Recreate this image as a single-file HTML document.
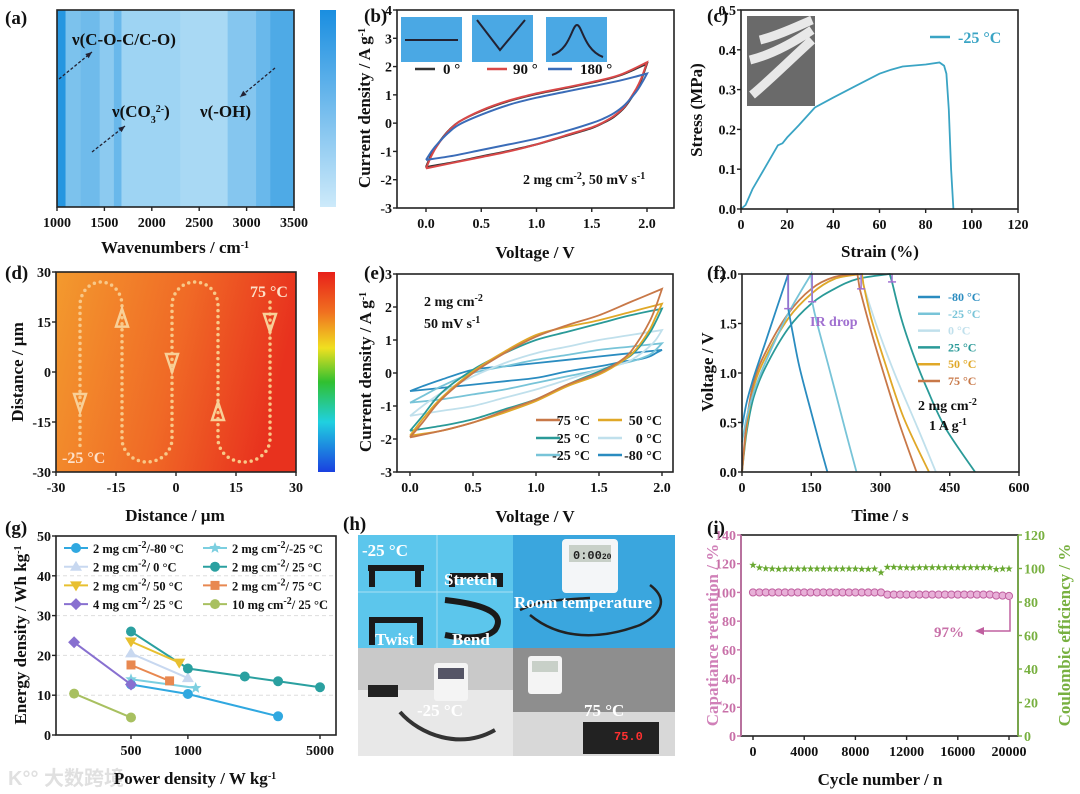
<!DOCTYPE html>
<html><head><meta charset="utf-8">
<style>
body{margin:0;background:#fff}
svg{display:block;font-family:"Liberation Serif","Noto Serif CJK SC",serif;font-weight:bold}
</style></head><body>
<svg id="fig" xmlns="http://www.w3.org/2000/svg" width="1080" height="794" viewBox="0 0 1080 794">
<defs>
<linearGradient id="cbA" x1="0" y1="0" x2="0" y2="1"><stop offset="0" stop-color="#1a8ee0"/><stop offset="1" stop-color="#cdeafa"/></linearGradient>
<linearGradient id="dBg" x1="0" y1="0" x2="1" y2="0.2"><stop offset="0" stop-color="#f39a2e"/><stop offset="0.55" stop-color="#f06a26"/><stop offset="1" stop-color="#e8321e"/></linearGradient>
<linearGradient id="rainbow" x1="0" y1="0" x2="0" y2="1"><stop offset="0" stop-color="#e8201a"/><stop offset="0.2" stop-color="#f07020"/><stop offset="0.38" stop-color="#f0e020"/><stop offset="0.55" stop-color="#30c030"/><stop offset="0.75" stop-color="#20d0e0"/><stop offset="1" stop-color="#1a40e0"/></linearGradient>
</defs>
<rect x="0" y="0" width="1080" height="794" fill="#fff"/>
<g>
<rect x="358" y="535" width="155" height="113" fill="#5cc6ec"/>
<line x1="437" y1="535" x2="437" y2="648" stroke="#a8e0f4" stroke-width="1"/>
<line x1="358" y1="592" x2="513" y2="592" stroke="#a8e0f4" stroke-width="1"/>
<path d="M372,587 L372,568 L418,568 L418,587 M372,568 L368,568 M418,568 L424,568" stroke="#1a1a1a" stroke-width="6" fill="none"/>
<path d="M450,576 L503,576 M452,576 L452,587 M500,576 L500,587" stroke="#1a1a1a" stroke-width="6" fill="none"/>
<path d="M372,645 L372,620 L420,620 L420,645" stroke="#1a1a1a" stroke-width="6" fill="none"/>
<path d="M445,600 C490,605 505,615 495,630 C485,640 460,638 445,635" stroke="#1a1a1a" stroke-width="6" fill="none"/>
<text x="362" y="556" font-size="17" fill="#fff">-25 °C</text>
<text x="444" y="585" font-size="17" fill="#fff">Stretch</text>
<text x="375" y="645" font-size="17" fill="#fff">Twist</text>
<text x="452" y="645" font-size="17" fill="#fff">Bend</text>
<rect x="513" y="535" width="162" height="113" fill="#3aa6de"/>
<rect x="562" y="539" width="56" height="54" rx="4" fill="#f4f6f8"/>
<rect x="569" y="545" width="42" height="17" fill="#c8d0c8"/>
<text x="573" y="559" font-size="12" fill="#222" font-family="Liberation Mono,monospace">0:00<tspan font-size="8">20</tspan></text>
<path d="M520,610 C540,600 560,600 590,598 M530,615 C560,640 600,640 640,625 C660,615 670,600 650,585" stroke="#222" stroke-width="2.5" fill="none"/>
<text x="514" y="608" font-size="17" fill="#fff">Room temperature</text>
<rect x="358" y="648" width="155" height="108" fill="#c9c9c9"/>
<rect x="358" y="690" width="155" height="66" fill="#e8e8e8"/>
<rect x="368" y="685" width="30" height="12" fill="#222"/>
<rect x="434" y="663" width="34" height="38" rx="3" fill="#f4f4f4"/>
<rect x="438" y="668" width="26" height="11" fill="#556"/>
<path d="M400,712 C420,735 460,750 495,730" stroke="#333" stroke-width="4" fill="none"/>
<text x="417" y="716" font-size="17" fill="#fff">-25 °C</text>
<rect x="513" y="648" width="162" height="108" fill="#8e8e8e"/>
<rect x="513" y="712" width="162" height="44" fill="#d8d8d8"/>
<rect x="528" y="656" width="34" height="38" rx="3" fill="#f4f4f4"/>
<rect x="532" y="661" width="26" height="11" fill="#c8d0c8"/>
<rect x="583" y="722" width="76" height="32" fill="#222"/>
<text x="614" y="740" font-size="12" fill="#ff3030" font-family="Liberation Mono,monospace">75.0</text>
<text x="584" y="716" font-size="17" fill="#fff">75 °C</text>
</g>
<rect x="401" y="17" width="61" height="45" fill="#4aa8e4"/>
<rect x="472" y="15" width="61" height="47" fill="#4aa8e4"/>
<rect x="546" y="17" width="61" height="45" fill="#4aa8e4"/>
<path d="M405,40 L458,40 M477,20 L500,50 L525,20 M552,55 C570,50 572,25 577,25 C582,25 584,50 603,57" stroke="#223" stroke-width="2" fill="none"/>
<rect x="747" y="16" width="68" height="90" fill="#6a6a6a"/>
<path d="M752,95 C770,80 790,60 812,40 M750,60 C770,55 790,45 812,30 M760,40 C780,35 800,25 812,20" stroke="#e8e8e8" stroke-width="9" fill="none"/>
<text x="8" y="785" font-size="20" fill="#e0e0e0" font-family="Liberation Sans,'Noto Sans CJK SC',sans-serif">K°° 大数跨境</text>
</svg>
<script>
const aWaveEdges = [1000,1090,1250,1450,1600,1680,2300,2800,3100,3250,3500];
const aIntensity = [0.92,0.45,0.52,0.36,0.55,0.26,0.2,0.4,0.55,0.7];
const aTicks = [1000,1500,2000,2500,3000,3500];
const bVup = [0,0.05,0.1,0.2,0.3,0.5,0.75,1.0,1.25,1.5,1.75,2.0];
const bVdn = [2.0,1.95,1.9,1.8,1.7,1.6,1.5,1.25,1.0,0.75,0.5,0.25,0];
const b0Up = [-1.55,-1.1,-0.78,-0.28,0.05,0.43,0.78,1.03,1.23,1.43,1.68,2.1];
const b0Dn = [2.1,1.55,1.15,0.57,0.22,0,-0.17,-0.47,-0.75,-0.98,-1.18,-1.38,-1.55];
const b90Up = [-1.6,-1.15,-0.8,-0.3,0.05,0.45,0.8,1.05,1.25,1.45,1.7,2.15];
const b90Dn = [2.15,1.6,1.2,0.6,0.25,0.02,-0.15,-0.45,-0.75,-1.0,-1.2,-1.4,-1.6];
const b180Up = [-1.3,-1.0,-0.75,-0.35,-0.05,0.3,0.65,0.9,1.1,1.3,1.5,1.75];
const b180Dn = [1.75,1.4,1.1,0.65,0.35,0.15,0.0,-0.3,-0.55,-0.75,-0.95,-1.15,-1.3];
const bXTicks = [0,0.5,1.0,1.5,2.0];
const bYTicks = [-3,-2,-1,0,1,2,3,4];
const cStrain = [0,2,5,10,16,18,20,25,32,40,50,60,65,70,80,86,88,89,90,91,92];
const cStress = [0,0.01,0.05,0.1,0.16,0.165,0.18,0.21,0.255,0.28,0.31,0.34,0.35,0.358,0.363,0.368,0.36,0.34,0.25,0.1,0];
const cXTicks = [0,20,40,60,80,100,120];
const cYTicks = [0,0.1,0.2,0.3,0.4,0.5];
const dTicks = [-30,-15,0,15,30];
const dArrowX = [-24,-13.5,-1,10.5,23.5];
const dArrowY = [-9,16,3,-12,15];
const dArrowUp = [false,true,false,true,false];
const eVup = [0,0.1,0.25,0.5,0.75,1.0,1.25,1.5,1.75,2.0];
const eVdn = [2.0,1.95,1.9,1.8,1.7,1.5,1.25,1.0,0.75,0.5,0.25,0];
const e75Up = [-1.95,-1.5,-0.8,0,0.6,1.1,1.45,1.75,2.15,2.55];
const e75Dn = [2.55,2.0,1.55,0.9,0.45,0.0,-0.35,-0.8,-1.15,-1.5,-1.75,-1.95];
const e50Up = [-1.9,-1.4,-0.75,0.05,0.65,1.15,1.4,1.6,1.85,2.1];
const e50Dn = [2.1,1.7,1.3,0.75,0.4,-0.05,-0.4,-0.85,-1.2,-1.5,-1.75,-1.9];
const e25Up = [-1.75,-1.3,-0.6,0.1,0.6,1.0,1.25,1.5,1.75,1.95];
const e25Dn = [1.95,1.55,1.2,0.7,0.4,0.05,-0.35,-0.8,-1.1,-1.4,-1.6,-1.75];
const e0Up = [-1.3,-1.0,-0.6,-0.1,0.3,0.6,0.8,1.0,1.15,1.3];
const e0Dn = [1.3,1.0,0.8,0.5,0.3,0.1,-0.2,-0.5,-0.75,-1.0,-1.15,-1.3];
const em25Up = [-0.9,-0.7,-0.4,0,0.2,0.4,0.55,0.7,0.8,0.9];
const em25Dn = [0.9,0.7,0.55,0.4,0.3,0.1,-0.1,-0.3,-0.5,-0.65,-0.8,-0.9];
const em80Up = [-0.55,-0.4,-0.2,0.1,0.2,0.3,0.4,0.5,0.6,0.7];
const em80Dn = [0.7,0.6,0.5,0.4,0.35,0.2,0.05,-0.15,-0.25,-0.35,-0.45,-0.55];
const eYTicks = [-3,-2,-1,0,1,2,3];
const fm80T = [0,10,25,50,75,100,100,110,125,150,170,185];
const fm80V = [0.45,0.7,0.95,1.3,1.65,2.0,1.65,1.4,1.05,0.6,0.25,0];
const fm25T = [0,10,25,50,100,150,152,160,180,200,225,248];
const fm25V = [0.3,0.55,0.8,1.1,1.6,2.0,1.72,1.55,1.2,0.85,0.4,0];
const f0T = [0,10,25,50,100,150,200,255,262,290,330,380,420];
const f0V = [0,0.5,0.85,1.15,1.55,1.8,1.95,2.0,1.9,1.5,1.0,0.45,0];
const f25T = [0,10,25,50,100,150,200,250,320,325,345,370,400,440,505];
const f25V = [0,0.4,0.75,1.05,1.45,1.7,1.85,1.95,2.0,1.92,1.55,1.2,0.85,0.45,0];
const f50T = [0,10,25,50,100,150,200,260,263,280,310,350,405];
const f50V = [0,0.45,0.85,1.15,1.55,1.8,1.95,2.0,1.9,1.55,1.1,0.55,0];
const f75T = [0,10,25,50,100,150,200,250,255,275,300,340,378];
const f75V = [0,0.5,0.9,1.2,1.6,1.85,1.97,2.0,1.85,1.5,1.1,0.5,0];
const fIRT = [100,152,258,325];
const fIRV = [1.65,1.72,1.85,1.92];
const fXTicks = [0,150,300,450,600];
const fYTicks = [0,0.5,1.0,1.5,2.0];
const gm80P = [500,1000,3000], gm80E = [12.7,10.3,4.7];
const gm25P = [500,1100], gm25E = [14,11.8];
const g0P = [500,1000], g0E = [20.5,14.3];
const g25P = [500,1000,2000,3000,5000], g25E = [26,16.7,14.7,13.5,12];
const g50P = [500,900], g50E = [23.5,18.2];
const g75P = [500,800], g75E = [17.6,13.6];
const g4P = [250,500], g4E = [23.3,12.7];
const g10P = [250,500], g10E = [10.4,4.4];
const gXTicks = [500,1000,5000];
const gYTicks = [0,10,20,30,40,50];
const iCycles = [0,500,1000,1500,2000,2500,3000,3500,4000,4500,5000,5500,6000,6500,7000,7500,8000,8500,9000,9500,10000,10500,11000,11500,12000,12500,13000,13500,14000,14500,15000,15500,16000,16500,17000,17500,18000,18500,19000,19500,20000];
const iRet = [100,100,100,100,100,100,100,100,100,100,100,100,100,100,100,100,100,100,100,100,100,98.5,98.5,98.5,98.5,98.5,98.5,98.5,98.5,98.5,98.5,98.5,98.5,98.5,98.5,98.5,98.5,98.5,97.8,97.8,97.5];
const iCE = [102,100.5,100,99.8,99.6,99.8,99.8,99.8,99.8,99.8,99.8,99.8,99.8,99.8,99.8,99.8,99.8,99.6,99.6,99.8,97.5,100.8,100.8,100.6,100.5,100.4,100.6,100.6,100.6,100.6,100.6,100.6,100.6,100.6,100.6,100.6,100.6,100.6,99.5,99.8,99.8];
const iXTicks = [0,4000,8000,12000,16000,20000];
const iLTicks = [0,20,40,60,80,100,120,140];
const iRTicks = [0,20,40,60,80,100,120];

const NS = 'http://www.w3.org/2000/svg';
const S = document.getElementById('fig');
const TF = 14;
function mk(tag, attrs, parent, name) {
  const e = document.createElementNS(NS, tag);
  for (const k in attrs) e.setAttribute(k, attrs[k]);
  
  
  parent.appendChild(e);
  return e;
}
function txt(parent, x, y, html, size, anchor, fill, name, rot) {
  const a = {x: x, y: y, 'font-size': size, 'text-anchor': anchor || 'start', fill: fill || '#111'};
  if (rot) a.transform = 'rotate(-90,' + x + ',' + y + ')';
  const t = mk('text', a, parent, name);
  t.innerHTML = html;
  return t;
}
const sup = s => '<tspan baseline-shift="super" font-size="10">' + s + '</tspan>';
const sub = s => '<tspan baseline-shift="sub" font-size="10">' + s + '</tspan>';
function lin(d0, d1, r0, r1) { return v => r0 + (v - d0) / (d1 - d0) * (r1 - r0); }
function smooth(pts, move) {
  let d = (move === false ? 'L' : 'M') + pts[0][0].toFixed(1) + ',' + pts[0][1].toFixed(1);
  for (let i = 0; i < pts.length - 1; i++) {
    const p0 = pts[i - 1] || pts[i], p1 = pts[i], p2 = pts[i + 1], p3 = pts[i + 2] || p2;
    const c1 = [p1[0] + (p2[0] - p0[0]) / 6, p1[1] + (p2[1] - p0[1]) / 6];
    const c2 = [p2[0] - (p3[0] - p1[0]) / 6, p2[1] - (p3[1] - p1[1]) / 6];
    d += ' C' + c1.map(v => v.toFixed(1)) + ' ' + c2.map(v => v.toFixed(1)) + ' ' + p2.map(v => v.toFixed(1));
  }
  return d;
}
function axes(g, x0, y0, x1, y1, xs, ys, xt, xfmt, yt, yfmt, opt) {
  opt = opt || {};
  const frame = mk('rect', {x: x0, y: y0, width: x1 - x0, height: y1 - y0, fill: 'none', stroke: '#222', 'stroke-width': 1.6}, g, 'plot-frame');
  xt.forEach(v => {
    const x = xs(v);
    const tk = mk('line', {x1: x, y1: y1, x2: x, y2: y1 + 4, stroke: '#222', 'stroke-width': 1.4}, g, 'x-tick');
    txt(g, x, y1 + 20, xfmt(v), TF, 'middle', '#111', 'x-tick-label');
  });
  if (yt) yt.forEach(v => {
    const y = ys(v);
    const tk = mk('line', {x1: x0 - 4, y1: y, x2: x0, y2: y, stroke: opt.yc || '#222', 'stroke-width': 1.4}, g, 'y-tick');
    txt(g, x0 - 5, y + 5, yfmt(v), TF, 'end', opt.yc || '#111', 'y-tick-label');
  });
  return frame;
}
function panel(name) { return mk('g', {}, S, name); }
function panelLabel(x, y, s) { txt(S, x, y, s, 19, 'start', '#111', 'panel-label'); }

{
  const g = panel('panel-a-ftir-map');
  const xs = lin(1000, 3500, 57, 294);
  const c0 = [205, 236, 250], c1 = [24, 142, 222];
  for (let i = 0; i < aIntensity.length; i++) {
    const t = aIntensity[i];
    const col = 'rgb(' + c0.map((c, k) => Math.round(c + (c1[k] - c) * t)).join(',') + ')';
    const r = mk('rect', {x: xs(aWaveEdges[i]), y: 10, width: xs(aWaveEdges[i + 1]) - xs(aWaveEdges[i]) + 0.5, height: 197, fill: col}, g, 'heatmap-band');
  }
  axes(g, 57, 10, 294, 207, xs, null, aTicks, v => v, null, null);
  const cb = mk('rect', {x: 320, y: 10, width: 16, height: 197, fill: 'url(#cbA)'}, g, 'colorbar');
  txt(g, 72, 45, 'ν(C-O-C/C-O)', 17, 'start', '#111', 'annotation-coc');
  txt(g, 112, 117, 'ν(CO' + sub('3') + sup('2-') + ')', 17, 'start', '#111', 'annotation-co3');
  txt(g, 200, 117, 'ν(-OH)', 17, 'start', '#111', 'annotation-oh');
  [[59, 79, 92, 52], [92, 152, 125, 126], [275, 68, 240, 97]].forEach(a => {
    const l = mk('line', {x1: a[0], y1: a[1], x2: a[2], y2: a[3], stroke: '#223', 'stroke-width': 1.3, 'stroke-dasharray': '3,2'}, g, 'annotation-arrow');
    const ang = Math.atan2(a[3] - a[1], a[2] - a[0]);
    const p = [[a[2], a[3]], [a[2] - 7 * Math.cos(ang - 0.4), a[3] - 7 * Math.sin(ang - 0.4)], [a[2] - 7 * Math.cos(ang + 0.4), a[3] - 7 * Math.sin(ang + 0.4)]];
    const h = mk('polygon', {points: p.map(q => q.join(',')).join(' '), fill: '#223'}, g, 'arrow-head');
  });
  txt(g, 175, 253, 'Wavenumbers / cm' + sup('-1'), 17, 'middle', '#111', 'x-axis-title');
  panelLabel(5, 24, '(a)');
}
{
  const g = panel('panel-b-cv-bending');
  const xs = lin(0, 2, 426, 647), ys = lin(-3, 4, 208, 10);
  const series = [[b0Up, b0Dn, '#333'], [b90Up, b90Dn, '#d84848'], [b180Up, b180Dn, '#3a6cb8']];
  series.forEach(s => {
    const up = bVup.map((v, i) => [xs(v), ys(s[0][i])]);
    const dn = bVdn.map((v, i) => [xs(v), ys(s[1][i])]);
    const p = mk('path', {d: smooth(up) + ' ' + smooth(dn, false), fill: 'none', stroke: s[2], 'stroke-width': 2}, g, 'cv-loop');
  });
  axes(g, 397, 10, 674, 208, xs, ys, bXTicks, v => v.toFixed(1), bYTicks, v => v);
  [[415, 435, '#333', '0 °', 443], [487, 507, '#d84848', '90 °', 513], [548, 572, '#3a6cb8', '180 °', 580]].forEach(l => {
    const ln = mk('line', {x1: l[0], y1: 69, x2: l[1], y2: 69, stroke: l[2], 'stroke-width': 2.5}, g, 'legend-line');
    txt(g, l[4], 74, l[3], 15, 'start', '#111', 'legend-label');
  });
  txt(g, 523, 184, '2 mg cm' + sup('-2') + ', 50 mV s' + sup('-1'), 14, 'start', '#111', 'condition-note');
  txt(g, 370, 108, 'Current density / A g' + sup('-1'), 17, 'middle', '#111', 'y-axis-title', true);
  txt(g, 535, 258, 'Voltage / V', 17, 'middle', '#111', 'x-axis-title');
  panelLabel(364, 22, '(b)');
}
{
  const g = panel('panel-c-stress-strain');
  const xs = lin(0, 120, 741, 1018), ys = lin(0, 0.5, 209, 10);
  const p = mk('path', {d: cStrain.map((v, i) => (i ? 'L' : 'M') + xs(v).toFixed(1) + ',' + ys(cStress[i]).toFixed(1)).join(' '), fill: 'none', stroke: '#3aa4c4', 'stroke-width': 1.8}, g, 'stress-strain-curve');
  axes(g, 741, 10, 1018, 209, xs, ys, cXTicks, v => v, cYTicks, v => v.toFixed(1));
  const ll = mk('line', {x1: 930, y1: 37, x2: 950, y2: 37, stroke: '#3aa4c4', 'stroke-width': 2.5}, g, 'legend-line');
  txt(g, 958, 43, '-25 °C', 16, 'start', '#3aa4c4', 'legend-label');
  txt(g, 702, 110, 'Stress (MPa)', 17, 'middle', '#111', 'y-axis-title', true);
  txt(g, 880, 257, 'Strain (%)', 17, 'middle', '#111', 'x-axis-title');
  panelLabel(707, 22, '(c)');
}
{
  const g = panel('panel-d-temperature-map');
  const xs = lin(-30, 30, 56, 296), ys = lin(-30, 30, 472, 272);
  const bg = mk('rect', {x: 56, y: 272, width: 240, height: 200, fill: 'url(#dBg)'}, g, 'temperature-field');
  const rx = (xs(-13.5) - xs(-24)) / 2, ry = ys(20) - ys(27);
  const d = 'M' + xs(-24) + ',' + ys(-22) + ' L' + xs(-24) + ',' + ys(20) +
    ' A' + rx + ',' + ry + ' 0 0 1 ' + xs(-13.5) + ',' + ys(20) + ' L' + xs(-13.5) + ',' + ys(-20) +
    ' A' + (xs(-1) - xs(-13.5)) / 2 + ',' + ry + ' 0 0 0 ' + xs(-1) + ',' + ys(-20) + ' L' + xs(-1) + ',' + ys(20) +
    ' A' + (xs(10.5) - xs(-1)) / 2 + ',' + ry + ' 0 0 1 ' + xs(10.5) + ',' + ys(20) + ' L' + xs(10.5) + ',' + ys(-20) +
    ' A' + (xs(23.5) - xs(10.5)) / 2 + ',' + ry + ' 0 0 0 ' + xs(23.5) + ',' + ys(-20) + ' L' + xs(23.5) + ',' + ys(22);
  const path = mk('path', {d: d, fill: 'none', stroke: '#f8c888', 'stroke-width': 3.5, 'stroke-linecap': 'round', 'stroke-dasharray': '0,6'}, g, 'scan-path');
  dArrowX.forEach((x, i) => {
    const cx = xs(x), cy = ys(dArrowY[i]);
    const pts = dArrowUp[i] ? [[cx, cy - 10], [cx - 6, cy + 8], [cx + 6, cy + 8]] : [[cx, cy + 10], [cx - 6, cy - 8], [cx + 6, cy - 8]];
    const tri = mk('polygon', {points: pts.map(q => q.join(',')).join(' '), fill: 'none', stroke: '#f8d098', 'stroke-width': 2.5}, g, 'scan-direction-arrow');
  });
  axes(g, 56, 272, 296, 472, xs, ys, dTicks, v => v, dTicks, v => v);
  txt(g, 250, 297, '75 °C', 16, 'start', '#fde0c8', 'label-75c');
  txt(g, 62, 463, '-25 °C', 16, 'start', '#fde0c8', 'label-minus25c');
  const cb = mk('rect', {x: 318, y: 272, width: 17, height: 200, fill: 'url(#rainbow)'}, g, 'colorbar');
  txt(g, 23, 372, 'Distance / µm', 17, 'middle', '#111', 'y-axis-title', true);
  txt(g, 175, 521, 'Distance / µm', 17, 'middle', '#111', 'x-axis-title');
  panelLabel(5, 279, '(d)');
}
{
  const g = panel('panel-e-cv-temperature');
  const xs = lin(0, 2, 410, 662), ys = lin(-3, 3, 472, 274);
  const series = [[em80Up, em80Dn, '#2a8cc0'], [em25Up, em25Dn, '#78c4d8'], [e0Up, e0Dn, '#c0e0ec'], [e25Up, e25Dn, '#2a9a98'], [e50Up, e50Dn, '#e0a828'], [e75Up, e75Dn, '#c87848']];
  series.forEach(s => {
    const up = eVup.map((v, i) => [xs(v), ys(s[0][i])]);
    const dn = eVdn.map((v, i) => [xs(v), ys(s[1][i])]);
    const p = mk('path', {d: smooth(up) + ' ' + smooth(dn, false), fill: 'none', stroke: s[2], 'stroke-width': 1.8}, g, 'cv-loop');
  });
  axes(g, 397, 274, 673, 472, xs, ys, bXTicks, v => v.toFixed(1), eYTicks, v => v);
  txt(g, 424, 306, '2 mg cm' + sup('-2'), 14, 'start', '#111', 'condition-note');
  txt(g, 424, 328, '50 mV s' + sup('-1'), 14, 'start', '#111', 'condition-note');
  [['75 °C', '#c87848', 536, 420, 590], ['50 °C', '#e0a828', 598, 420, 662], ['25 °C', '#2a9a98', 536, 438, 590], ['0 °C', '#c0e0ec', 598, 438, 662], ['-25 °C', '#78c4d8', 536, 455, 590], ['-80 °C', '#2a8cc0', 598, 455, 662]].forEach(l => {
    const ln = mk('line', {x1: l[2], y1: l[3], x2: l[2] + 24, y2: l[3], stroke: l[1], 'stroke-width': 2.5}, g, 'legend-line');
    txt(g, l[4], l[3] + 5, l[0], 14, 'end', '#111', 'legend-label');
  });
  txt(g, 371, 372, 'Current density / A g' + sup('-1'), 17, 'middle', '#111', 'y-axis-title', true);
  txt(g, 535, 522, 'Voltage / V', 17, 'middle', '#111', 'x-axis-title');
  panelLabel(364, 279, '(e)');
}
{
  const g = panel('panel-f-gcd');
  const xs = lin(0, 600, 742, 1019), ys = lin(0, 2, 472, 274);
  const series = [[f25T, f25V, '#2a9a98'], [f0T, f0V, '#c0e0ec'], [f50T, f50V, '#e0a828'], [f75T, f75V, '#c87848'], [fm25T, fm25V, '#78c4d8'], [fm80T, fm80V, '#2a8cc0']];
  series.forEach(s => {
    let k = 1;
    while (k < s[1].length && s[1][k] >= s[1][k - 1]) k++;
    const ch = s[0].slice(0, k).map((t, i) => [xs(t), ys(s[1][i])]);
    const dc = s[0].slice(k).map((t, i) => [xs(t), ys(s[1][k + i])]);
    const p = mk('path', {d: smooth(ch) + ' ' + smooth(dc, false), fill: 'none', stroke: s[2], 'stroke-width': 1.8}, g, 'gcd-curve');
  });
  fIRT.forEach((t, i) => {
    const x = xs(t);
    const l = mk('line', {x1: x, y1: ys(2.0), x2: x, y2: ys(fIRV[i]), stroke: '#a070d0', 'stroke-width': 1.5}, g, 'ir-drop-marker');
    const b = mk('line', {x1: x - 4, y1: ys(fIRV[i]), x2: x + 4, y2: ys(fIRV[i]), stroke: '#a070d0', 'stroke-width': 1.5}, g, 'ir-drop-cap');
  });
  axes(g, 742, 274, 1019, 472, xs, ys, fXTicks, v => v, fYTicks, v => v.toFixed(1));
  txt(g, 810, 326, 'IR drop', 14, 'start', '#a070d0', 'ir-drop-label');
  [['-80 °C', '#2a8cc0'], ['-25 °C', '#78c4d8'], ['0 °C', '#c0e0ec'], ['25 °C', '#2a9a98'], ['50 °C', '#e0a828'], ['75 °C', '#c87848']].forEach((l, i) => {
    const y = 297 + i * 16.8;
    const ln = mk('line', {x1: 918, y1: y, x2: 940, y2: y, stroke: l[1], 'stroke-width': 2.5}, g, 'legend-line');
    txt(g, 948, y + 4, l[0], 12, 'start', l[1], 'legend-label');
  });
  txt(g, 918, 410, '2 mg cm' + sup('-2'), 14, 'start', '#111', 'condition-note');
  txt(g, 929, 430, '1 A g' + sup('-1'), 14, 'start', '#111', 'condition-note');
  txt(g, 713, 372, 'Voltage / V', 17, 'middle', '#111', 'y-axis-title', true);
  txt(g, 880, 521, 'Time / s', 17, 'middle', '#111', 'x-axis-title');
  panelLabel(707, 279, '(f)');
}
{
  const g = panel('panel-g-ragone');
  const xs = v => 131 + (Math.log10(v) - Math.log10(500)) * 189;
  const ys = lin(0, 50, 735, 536);
  [10, 20, 30, 40].forEach(v => {
    const gl = mk('line', {x1: 56, y1: ys(v), x2: 336, y2: ys(v), stroke: '#ddd', 'stroke-width': 1, 'stroke-dasharray': '4,3'}, g, 'grid-line');
  });
  function marker(x, y, shape, col, name) {
    let m;
    if (shape === 'circle') m = mk('circle', {cx: x, cy: y, r: 5, fill: col}, g, name);
    else if (shape === 'square') m = mk('rect', {x: x - 4.5, y: y - 4.5, width: 9, height: 9, fill: col}, g, name);
    else if (shape === 'diamond') m = mk('polygon', {points: [[x, y - 6], [x + 6, y], [x, y + 6], [x - 6, y]].join(' '), fill: col}, g, name);
    else if (shape === 'up') m = mk('polygon', {points: [[x, y - 6], [x + 6, y + 4], [x - 6, y + 4]].join(' '), fill: col}, g, name);
    else if (shape === 'down') m = mk('polygon', {points: [[x, y + 6], [x + 6, y - 4], [x - 6, y - 4]].join(' '), fill: col}, g, name);
    else {
      const p = [];
      for (let k = 0; k < 10; k++) { const r = k % 2 ? 2.6 : 6, a = -Math.PI / 2 + k * Math.PI / 5; p.push([(x + r * Math.cos(a)).toFixed(1), (y + r * Math.sin(a)).toFixed(1)]); }
      m = mk('polygon', {points: p.join(' '), fill: col}, g, name);
    }
    return m;
  }
  const series = [[gm80P, gm80E, '#30a8e0', 'circle'], [gm25P, gm25E, '#7ccfe0', 'star'], [g0P, g0E, '#c8d8f0', 'up'], [g25P, g25E, '#2aa0a0', 'circle'], [g50P, g50E, '#e8c030', 'down'], [g75P, g75E, '#e88850', 'square'], [g4P, g4E, '#8870d0', 'diamond'], [g10P, g10E, '#a8c060', 'circle']];
  series.forEach(s => {
    const pl = mk('polyline', {points: s[0].map((p, i) => xs(p).toFixed(1) + ',' + ys(s[1][i]).toFixed(1)).join(' '), fill: 'none', stroke: s[2], 'stroke-width': 2}, g, 'ragone-line');
    s[0].forEach((p, i) => marker(xs(p), ys(s[1][i]), s[3], s[2], 'ragone-point'));
  });
  axes(g, 56, 536, 336, 735, xs, ys, gXTicks, v => v, gYTicks, v => v);
  const leg = [['2 mg cm' + sup('-2') + '/-80 °C', '#30a8e0', 'circle'], ['2 mg cm' + sup('-2') + '/-25 °C', '#7ccfe0', 'star'], ['2 mg cm' + sup('-2') + '/ 0 °C', '#c8d8f0', 'up'], ['2 mg cm' + sup('-2') + '/ 25 °C', '#2aa0a0', 'circle'], ['2 mg cm' + sup('-2') + '/ 50 °C', '#e8c030', 'down'], ['2 mg cm' + sup('-2') + '/ 75 °C', '#e88850', 'square'], ['4 mg cm' + sup('-2') + '/ 25 °C', '#8870d0', 'diamond'], ['10 mg cm' + sup('-2') + '/ 25 °C', '#a8c060', 'circle']];
  leg.forEach((l, i) => {
    const x = i % 2 ? 203 : 64, y = 548 + Math.floor(i / 2) * 18.7;
    const ln = mk('line', {x1: x, y1: y, x2: x + 24, y2: y, stroke: l[1], 'stroke-width': 2}, g, 'legend-line');
    marker(x + 12, y, l[2], l[1], 'legend-marker');
    txt(g, x + 29, y + 5, l[0], 12.5, 'start', '#111', 'legend-label');
  });
  txt(g, 26, 635, 'Energy density / Wh kg' + sup('-1'), 17, 'middle', '#111', 'y-axis-title', true);
  txt(g, 195, 784, 'Power density / W kg' + sup('-1'), 17, 'middle', '#111', 'x-axis-title');
  panelLabel(5, 534, '(g)');
}
panelLabel(343, 530, '(h)');
{
  const g = panel('panel-i-cycling');
  const xs = lin(0, 20000, 753, 1009), yl = lin(0, 140, 736, 535), yr = lin(0, 120, 736, 535);
  iCycles.forEach((c, i) => {
    const m = mk('circle', {cx: xs(c), cy: yl(iRet[i]), r: 3.6, fill: '#e8b0d8', stroke: '#c060a0', 'stroke-width': 1}, g, 'retention-point');
  });
  iCycles.forEach((c, i) => {
    const x = xs(c), y = yr(iCE[i]);
    const p = [];
    for (let k = 0; k < 10; k++) { const r = k % 2 ? 1.6 : 4, a = -Math.PI / 2 + k * Math.PI / 5; p.push([(x + r * Math.cos(a)).toFixed(1), (y + r * Math.sin(a)).toFixed(1)]); }
    const st = mk('polygon', {points: p.join(' '), fill: '#68a830'}, g, 'coulombic-point');
  });
  const fr = axes(g, 741, 535, 1018, 736, xs, yl, iXTicks, v => v, iLTicks, v => v, {yc: '#c870a8'});
  iRTicks.forEach(v => {
    const y = yr(v);
    const tk = mk('line', {x1: 1018, y1: y, x2: 1022, y2: y, stroke: '#78b040', 'stroke-width': 1.4}, g, 'y-right-tick');
    txt(g, 1024, y + 5, v, TF, 'start', '#78b040', 'y-right-tick-label');
  });
  const rs = mk('line', {x1: 1018, y1: 535, x2: 1018, y2: 736, stroke: '#78b040', 'stroke-width': 1.6}, g, 'right-spine');
  const ls = mk('line', {x1: 741, y1: 535, x2: 741, y2: 736, stroke: '#c870a8', 'stroke-width': 1.6}, g, 'left-spine');
  const br = mk('polyline', {points: '1010,600 1010,631 982,631', fill: 'none', stroke: '#c060a0', 'stroke-width': 1.5}, g, 'annotation-bracket');
  const ah = mk('polygon', {points: '975,631 984,627 984,635', fill: '#c060a0'}, g, 'annotation-arrow-head');
  txt(g, 934, 637, '97%', 15, 'start', '#c870a8', 'annotation-97');
  txt(g, 718, 635, 'Capatiance retention / %', 17, 'middle', '#d080b8', 'y-axis-title-left', true);
  txt(g, 1070, 635, 'Coulombic efficiency / %', 17, 'middle', '#78b040', 'y-axis-title-right', true);
  txt(g, 880, 785, 'Cycle number / n', 17, 'middle', '#111', 'x-axis-title');
  panelLabel(707, 534, '(i)');
}
</script>
</body></html>
